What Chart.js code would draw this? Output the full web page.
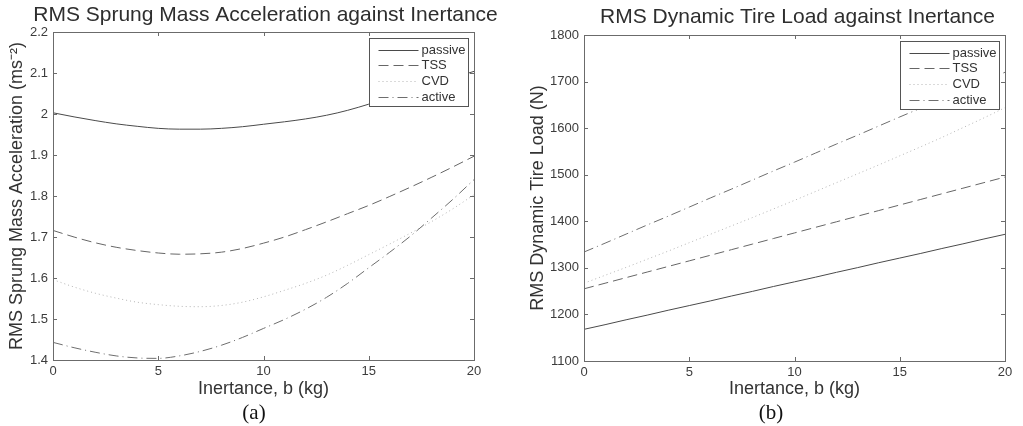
<!DOCTYPE html>
<html>
<head>
<meta charset="utf-8">
<script src="https://cdn.jsdelivr.net/npm/chart.js@4"></script>
<style>
  body { margin: 0; background: #fff; width: 1023px; height: 426px; position: relative; overflow: hidden; }
  canvas { position: absolute; top: 0; }
  #accel { left: 0; }
  #tire { left: 511px; }
  .cap { position: absolute; top: 400px; line-height: 24px; font: 21px "Liberation Serif", "Times New Roman", serif; color: #111; transform: translateX(-50%); }
</style>
</head>
<body>
<canvas id="accel" width="511" height="426"></canvas>
<canvas id="tire" width="512" height="426"></canvas>
<div class="cap" style="left:254px">(a)</div>
<div class="cap" style="left:771px">(b)</div>
<script>
// inertance b (kg)
const inertance = [0, 1, 2, 3, 4, 5, 6, 7, 8, 9, 10, 11, 12, 13, 14, 15, 16, 17, 18, 19, 20];
const seriesNames = ['passive', 'TSS', 'CVD', 'active'];

// (a) RMS sprung mass acceleration, ms^-2
const accelPassive = [2.003, 1.993, 1.984, 1.976, 1.970, 1.965, 1.963, 1.963, 1.965, 1.969, 1.975, 1.981, 1.988, 1.997, 2.009, 2.024, 2.040, 2.056, 2.072, 2.088, 2.104];
const accelTSS     = [1.716, 1.700, 1.686, 1.675, 1.667, 1.661, 1.658, 1.659, 1.663, 1.672, 1.685, 1.700, 1.718, 1.737, 1.757, 1.777, 1.799, 1.822, 1.846, 1.871, 1.897];
const accelCVD     = [1.596, 1.578, 1.563, 1.551, 1.541, 1.535, 1.531, 1.530, 1.533, 1.541, 1.554, 1.570, 1.587, 1.607, 1.631, 1.657, 1.683, 1.710, 1.738, 1.769, 1.803];
const accelActive  = [1.443, 1.430, 1.419, 1.410, 1.405, 1.404, 1.410, 1.421, 1.436, 1.455, 1.477, 1.499, 1.524, 1.553, 1.587, 1.625, 1.663, 1.703, 1.747, 1.792, 1.840];

// (b) RMS dynamic tire load, N
const tirePassive = [1168, 1178, 1188.5, 1198.5, 1209, 1219, 1229, 1239.5, 1249.5, 1260, 1270, 1280, 1290.5, 1300.5, 1311, 1321, 1331, 1341.5, 1351.5, 1362, 1372];
const tireTSS     = [1255, 1267, 1279, 1291, 1303, 1315, 1327, 1339, 1351, 1363, 1375, 1387, 1399, 1411, 1423, 1435, 1447, 1459, 1471, 1483, 1495];
const tireCVD     = [1267, 1284, 1301, 1318.5, 1336, 1354, 1372, 1390, 1408, 1426.5, 1445, 1464, 1483, 1502, 1521, 1540.5, 1560, 1580, 1601, 1622, 1644];
const tireActive  = [1334, 1353, 1372.5, 1392, 1411, 1430.5, 1450, 1469, 1488.5, 1508, 1527, 1546.5, 1566, 1585, 1604.5, 1624, 1643, 1662.5, 1682, 1701, 1720];

const lineStyles = [
  { color: '#4a4a4a', dash: [] },
  { color: '#666666', dash: [10, 5] },
  { color: '#b4b4b4', dash: [1, 3] },
  { color: '#6e6e6e', dash: [10, 4, 1, 4] }
];

Chart.defaults.font.family = '"Liberation Sans", Arial, sans-serif';
Chart.defaults.color = '#3c3c3c';

// matlab style: box, inward ticks, title over the axes, legend box inside the axes
const matlabBox = {
  id: 'matlabBox',
  afterDatasetsDraw(chart, args, opts) {
    const { ctx, chartArea: a, scales: { x, y } } = chart;
    ctx.save();
    ctx.strokeStyle = '#6b6b6b';
    ctx.lineWidth = 1;
    ctx.setLineDash([]);
    ctx.beginPath();
    x.ticks.forEach(t => {
      const px = Math.round(x.getPixelForValue(t.value)) + 0.5;
      ctx.moveTo(px, a.bottom); ctx.lineTo(px, a.bottom - 4);
      ctx.moveTo(px, a.top); ctx.lineTo(px, a.top + 4);
    });
    y.ticks.forEach(t => {
      const py = Math.round(y.getPixelForValue(t.value)) + 0.5;
      ctx.moveTo(a.left, py); ctx.lineTo(a.left + 4, py);
      ctx.moveTo(a.right, py); ctx.lineTo(a.right - 4, py);
    });
    ctx.stroke();
    ctx.strokeRect(Math.round(a.left) + 0.5, Math.round(a.top) + 0.5, Math.round(a.right - a.left), Math.round(a.bottom - a.top));

    // title
    ctx.fillStyle = '#2e2e2e';
    ctx.font = '21px "Liberation Sans", Arial, sans-serif';
    ctx.textAlign = 'center';
    ctx.textBaseline = 'middle';
    ctx.fillText(opts.text, (a.left + a.right) / 2 + opts.dx, opts.y);

    // legend
    const w = 99, h = 68;
    const lx = Math.round(a.right - 6 - w) + 0.5, ly = Math.round(a.top + 6) + 0.5;
    ctx.fillStyle = '#fff';
    ctx.fillRect(lx, ly, w, h);
    ctx.strokeStyle = '#555';
    ctx.strokeRect(lx, ly, w, h);
    ctx.font = '13px "Liberation Sans", Arial, sans-serif';
    ctx.textAlign = 'left';
    chart.data.datasets.forEach((ds, i) => {
      const ry = Math.round(ly + 11 + i * 15.7) + 0.5;
      ctx.strokeStyle = ds.borderColor;
      ctx.setLineDash(ds.borderDash);
      ctx.beginPath();
      ctx.moveTo(lx + 9, ry); ctx.lineTo(lx + 49, ry);
      ctx.stroke();
      ctx.fillStyle = '#333';
      ctx.fillText(ds.label, lx + 52, ry);
    });
    ctx.restore();
  }
};

function makeChart(id, title, yTitle, series, yMin, yMax, yStep, fmt, lay) {
  return new Chart(document.getElementById(id), {
    type: 'line',
    data: {
      datasets: series.map((vals, i) => ({
        label: seriesNames[i],
        data: inertance.map((b, k) => ({ x: b, y: vals[k] })),
        borderColor: lineStyles[i].color,
        borderDash: lineStyles[i].dash,
        borderWidth: 1,
        pointRadius: 0,
        cubicInterpolationMode: 'monotone'
      }))
    },
    options: {
      responsive: false,
      animation: false,
      layout: { padding: { left: 0, right: lay.right, top: lay.top, bottom: 26 } },
      plugins: {
        legend: { display: false },
        tooltip: { enabled: false },
        matlabBox: { text: title, y: lay.titleY, dx: lay.titleDx }
      },
      scales: {
        x: {
          type: 'linear', min: 0, max: 20,
          ticks: { stepSize: 5, padding: 4, font: { size: 13 }, maxRotation: 0 },
          grid: { display: false, drawTicks: false },
          border: { display: false },
          title: { display: true, text: 'Inertance, b (kg)', color: '#333', font: { size: 18 }, padding: { top: 1, bottom: 0 } },
          afterFit: s => { s.height = lay.xHeight; }
        },
        y: {
          min: yMin, max: yMax,
          ticks: { stepSize: yStep, padding: 5, font: { size: 13 }, callback: fmt },
          grid: { display: false, drawTicks: false },
          border: { display: false },
          title: { display: true, text: yTitle, color: '#333', font: { size: 18 }, padding: { top: lay.yTitlePad, bottom: 0 } },
          afterFit: s => { s.width = lay.yWidth; }
        }
      }
    },
    plugins: [matlabBox]
  });
}

makeChart('accel', 'RMS Sprung Mass Acceleration against Inertance', 'RMS Sprung Mass Acceleration (ms\u207B\u00B2)',
  [accelPassive, accelTSS, accelCVD, accelActive], 1.4, 2.2, 0.1, v => String(+v.toFixed(1)),
  { right: 37, top: 32, titleY: 15, titleDx: 2, xHeight: 40, yWidth: 53, yTitlePad: 6 });

makeChart('tire', 'RMS Dynamic Tire Load against Inertance', 'RMS Dynamic Tire Load (N)',
  [tirePassive, tireTSS, tireCVD, tireActive], 1100, 1800, 100, v => String(v),
  { right: 18, top: 35, titleY: 17, titleDx: 3, xHeight: 39, yWidth: 73, yTitlePad: 16 });
</script>
</body>
</html>
